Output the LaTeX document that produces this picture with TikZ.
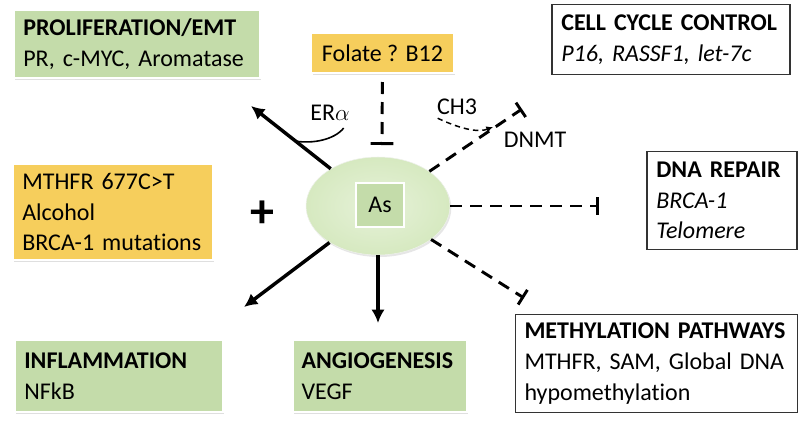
\documentclass[tikz,border=0pt]{standalone}
\usepackage{fontspec}
\setmainfont[Ligatures=NoCommon]{Carlito}
\usetikzlibrary{arrows.meta,shapes.geometric,shadows}
\definecolor{boxgreen}{RGB}{196,220,170}
\definecolor{boxgold}{RGB}{246,206,92}
\definecolor{coregreen}{RGB}{214,233,192}
\begin{document}
\begin{tikzpicture}[x=0.75pt,y=-0.75pt,
    txt/.style={font=\fontsize{18}{23}\selectfont},
    greenbox/.style={txt,draw=white,line width=2pt,fill=boxgreen,align=left,inner xsep=7pt,
        drop shadow={opacity=0.25,shadow xshift=1pt,shadow yshift=-1.5pt}},
    goldbox/.style={txt,draw=white,line width=1.5pt,fill=boxgold,align=left,inner xsep=7pt,
        drop shadow={opacity=0.25,shadow xshift=1pt,shadow yshift=-1.5pt}},
    plainbox/.style={txt,draw=black!80,line width=0.9pt,fill=white,align=left,inner xsep=7pt},
    arr/.style={line width=2.6pt,-{Latex[length=10pt,width=10pt]}},
    blk/.style={line width=2.2pt,dash pattern=on 9pt off 6pt,-{Bar[width=13pt,line width=2.2pt]}}]
    \useasboundingbox (0,0) rectangle (800,422);
                \node[greenbox,text width=170.5pt,minimum height=51pt] (prolif) at (137,44) {\textbf{PROLIFERATION/EMT}\\PR, c-MYC, Aromatase};
                \node[goldbox,minimum width=107pt,minimum height=30pt,align=center] (folate) at (382.5,53) {Folate ? B12};
                \node[plainbox,text width=164.5pt,minimum height=52pt] (cycle) at (671,39.5) {\textbf{CELL CYCLE CONTROL}\\\textit{P16, RASSF1, let-7c}};
                \node[goldbox,text width=136pt,minimum height=72pt] (risk) at (113,212) {MTHFR 677C>T\\Alcohol\\BRCA-1 mutations};
                \node[plainbox,text width=98.5pt,minimum height=74pt] (repair) at (722,200.5) {\textbf{DNA REPAIR}\\\textit{BRCA-1}\\\textit{Telomere}};
                \node[plainbox,text width=198pt,minimum height=74pt] (methyl) at (656.5,363.5) {\textbf{METHYLATION PATHWAYS}\\MTHFR, SAM, Global DNA\\hypomethylation};
                \node[greenbox,text width=142pt,minimum height=54pt] (inflam) at (119,376) {\textbf{INFLAMMATION}\\NFkB};
                \node[greenbox,text width=117pt,minimum height=54pt] (angio) at (379.5,376) {\textbf{ANGIOGENESIS}\\VEGF};
                \node[ellipse,minimum width=108pt,minimum height=73.5pt,inner color=coregreen!60,outer color=coregreen,draw=coregreen!80!black!20,
                    drop shadow={opacity=0.2,shadow xshift=1pt,shadow yshift=-1.5pt}] (core) at (378,206) {};
                \node[txt,draw=white,line width=2pt,fill=boxgreen,minimum width=36pt,minimum height=33pt] (as) at (380,205) {As};
                \node[font=\fontsize{36}{36}\selectfont\bfseries] (plus) at (262,214) {+};
                \node[txt] (era) at (330,113) {ER$\alpha$};
                \node[txt] (ch3) at (457,107) {CH3};
                \node[txt] (dnmt) at (535,140) {DNMT};

                \coordinate (proltip) at (251,106); \coordinate (inftip) at (244,307); \coordinate (angtip) at (378,323);
                \coordinate (folend) at (382,145); \coordinate (dnmtend) at (522,109); \coordinate (repend) at (599,206); \coordinate (methend) at (524,298);
                \coordinate (eraend) at (295,141); \coordinate (ch3end) at (493,127);

                \draw[arr] (core) to (proltip); \draw[arr] (core) to (inftip); \draw[arr] (core.south) to (angtip);
                \draw[line width=1.2pt] (era.south east) ++(-8pt,-2pt) .. controls (334,140) and (312,144) .. (eraend);
                \draw[blk,-{Bar[width=17pt,line width=2.2pt]},shorten <=6pt] (folate) to (folend);
                \draw[blk] (core) to (dnmtend); \draw[blk] (core) to (repend); \draw[blk] (core) to (methend);
                \draw[line width=1.1pt,dash pattern=on 4pt off 3pt,-{Latex[length=5pt,width=5pt]}] (ch3.south west) ++(4pt,1pt) .. controls (465,131) and (480,132) .. (ch3end);
            \end{tikzpicture}
\end{document}
